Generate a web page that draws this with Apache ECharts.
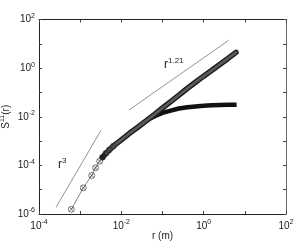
<!DOCTYPE html>
<html><head><meta charset="utf-8">
<script src="https://cdn.jsdelivr.net/npm/echarts@6/dist/echarts.min.js"></script>
<style>html,body{margin:0;padding:0;background:#fff}#c{width:297px;height:242px}</style>
</head><body><div id="c"></div>
<script>
// Upper structure-function curve (r in m, S in same units)
const upperR = [6.10e-4,1.19e-3,1.91e-3,2.36e-3,2.98e-3,3.48e-3,4.24e-3,5.11e-3,6.38e-3,0.01,0.0158,0.0251,0.0398,0.0631,0.1,0.158,0.251,0.398,0.631,1,1.58,2.51,3.98,6.1];
const upperS = [1.56e-6,1.19e-5,3.83e-5,7.94e-5,1.48e-4,2.14e-4,3.16e-4,4.37e-4,6.17e-4,1.12e-3,2.09e-3,3.72e-3,6.76e-3,0.0123,0.0229,0.0417,0.0776,0.145,0.263,0.468,0.813,1.45,2.57,4.47];
// Lower (saturating) curve
const lowerR = [0.0251,0.0355,0.0501,0.0708,0.1,0.158,0.251,0.398,0.631,1,1.58,2.51,3.98,6.31];
const lowerS = [3.72e-3,5.75e-3,8.51e-3,0.0112,0.0145,0.0178,0.0219,0.0245,0.0263,0.0282,0.0295,0.0302,0.0309,0.0309];
// Reference slope lines
const refR3R = [2.59e-4,3.21e-3];
const refR3S = [1.88e-6,2.77e-3];
const ref121R = [0.0153,4.06];
const ref121S = [0.0189,13.9];
// Axis ticks (log10 exponents)
const xTicks = [-4,-3,-2,-1,0,1,2];
const yTicks = [-6,-5,-4,-3,-2,-1,0,1,2];
const nMarkers = 9;

const L = Math.log10;
const pts = (R,S) => R.map((r,i)=>[L(r),L(S[i])]);
const FONT = '"Liberation Sans", Arial, sans-serif';
const rich = {b:{fontSize:10,fontFamily:FONT,color:'#222'}, e:{fontSize:7,fontFamily:FONT,color:'#222',padding:[0,0,7,0]}};
const fmt = v => (Math.round(v)%2===0) ? '{b|10}{e|'+Math.round(v)+'}' : '';
const axLine = {show:true,onZero:false,lineStyle:{color:'#222',width:1}};
const tick = {show:true,inside:true,length:3,lineStyle:{color:'#444'}};
const crossPath = 'path://M10,0A10,10,0,1,1,9.99,0ZM2.9,2.9L17.1,17.1M17.1,2.9L2.9,17.1';

const chart = echarts.init(document.getElementById('c'));
const upPts = pts(upperR, upperS);
chart.setOption({
  animation:false,
  grid:{left:39,right:11,top:19.5,bottom:28,containLabel:false,outerBoundsMode:'none'},
  xAxis:[
    {type:'value',min:xTicks[0],max:xTicks[xTicks.length-1],interval:1,position:'bottom',
     axisLine:axLine,axisTick:tick,splitLine:{show:false},
     axisLabel:{formatter:fmt,rich:rich,margin:5,showMinLabel:true,showMaxLabel:true},
     name:'r (m)',nameLocation:'middle',nameGap:17,nameMoveOverlap:false,nameTextStyle:{fontSize:10,fontFamily:FONT,color:'#222',verticalAlign:'top'}},
    {type:'value',min:xTicks[0],max:xTicks[xTicks.length-1],interval:1,position:'top',
     axisLine:axLine,axisTick:tick,axisLabel:{show:false},splitLine:{show:false}}
  ],
  yAxis:[
    {type:'value',min:yTicks[0],max:yTicks[yTicks.length-1],interval:1,position:'left',
     axisLine:axLine,axisTick:tick,splitLine:{show:false},
     axisLabel:{formatter:fmt,rich:rich,margin:4},
     name:'{b|S}{e|11}{b|(r)}',nameLocation:'middle',nameGap:26,nameRotate:90,nameMoveOverlap:false,
     nameTextStyle:{rich:{b:{fontSize:10,fontFamily:FONT,color:'#222'},e:{fontSize:7,fontFamily:FONT,color:'#222',padding:[0,0,7,0]}}}},
    {type:'value',min:yTicks[0],max:yTicks[yTicks.length-1],interval:1,position:'right',
     axisLine:{show:true,onZero:false,lineStyle:{color:'#666',width:1}},axisTick:tick,axisLabel:{show:false},splitLine:{show:false}}
  ],
  series:[
    {type:'line',data:pts(refR3R,refR3S),symbol:'none',lineStyle:{color:'#777',width:0.8},z:1},
    {type:'line',data:pts(ref121R,ref121S),symbol:'none',lineStyle:{color:'#777',width:0.8},z:1},
    {type:'line',data:pts(lowerR,lowerS),symbol:'none',lineStyle:{color:'#111',width:4.5,cap:'butt'},z:2},
    {type:'line',data:upPts,symbol:'none',lineStyle:{color:'#666',width:0.8},z:3},
    {type:'line',data:upPts.slice(nMarkers-4),symbol:'none',lineStyle:{color:'#1a1a1a',width:5.5,cap:'round'},z:4},
    {type:'line',data:upPts.slice(nMarkers-3),symbol:'none',lineStyle:{color:'#5a5a5a',width:2.8,cap:'round'},z:5},
    {type:'scatter',data:upPts.slice(0,nMarkers),symbol:crossPath,symbolSize:6,
     itemStyle:{color:'rgba(0,0,0,0)',borderColor:'#333',borderWidth:0.8},z:6}
  ],
  graphic:[
    {type:'text',left:58,top:157,style:{text:'{b|r}{e|3}',rich:{b:{fontSize:12,fontFamily:FONT,fill:'#222'},e:{fontSize:8,fontFamily:FONT,fill:'#222',padding:[0,0,8,0]}}}},
    {type:'text',left:164,top:57,style:{text:'{b|r}{e|1.21}',rich:{b:{fontSize:12,fontFamily:FONT,fill:'#222'},e:{fontSize:8,fontFamily:FONT,fill:'#222',padding:[0,0,8,0]}}}}
  ]
});
</script></body></html>
